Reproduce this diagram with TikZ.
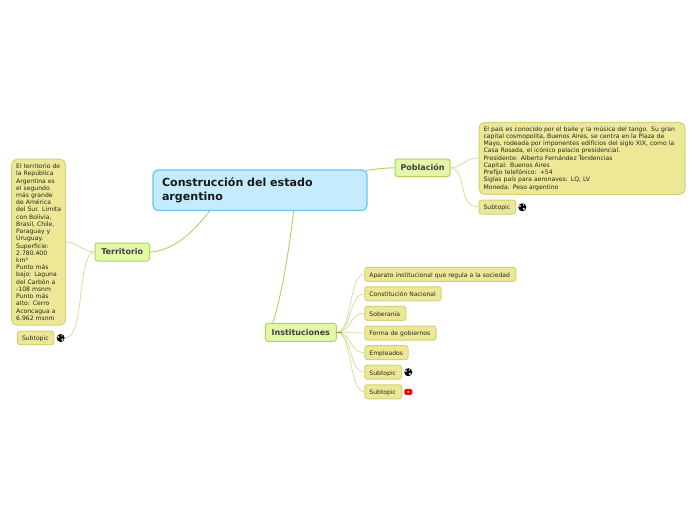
\documentclass[tikz,border=0pt]{standalone}
\usepackage{fontspec}
\setmainfont{DejaVu Sans}
\definecolor{mainfill}{HTML}{C4EBFF}
\definecolor{mainline}{HTML}{6CC5EE}
\definecolor{mainbranch}{HTML}{B2D25E}
\definecolor{topicfill}{HTML}{E2F7A8}
\definecolor{notefill}{HTML}{EDE896}
\definecolor{noteline}{HTML}{D5D07A}
\definecolor{twigline}{HTML}{DEDFA8}
\definecolor{earthland}{HTML}{C9C9A8}
\tikzset{
  centre/.style={draw=mainline,fill=mainfill,line width=1.2pt,rounded corners=5pt,anchor=north west,
    align=left,inner sep=0pt,inner xsep=9pt,outer sep=0pt,text=black!90,font=\fontsize{11.1}{13.2}\selectfont\bfseries},
  topic/.style={draw=mainbranch,fill=topicfill,line width=1pt,rounded corners=2.5pt,anchor=north west,
    align=center,inner sep=0pt,outer sep=0pt,text=black!75,font=\fontsize{8}{9}\selectfont\bfseries},
  note/.style={draw=noteline,fill=notefill,line width=1pt,rounded corners=2.5pt,anchor=north west,
    align=left,inner sep=0pt,inner xsep=4.6pt,outer sep=0pt,text=black!85,font=\fontsize{6.1}{7.22}\selectfont},
  notebox/.style 2 args={note,text width=#1pt-9.2pt,minimum height=#2pt},
  bignote/.style={rounded corners=5.5pt},
  oneline/.style={text height=6.2pt,text depth=0.6pt},
  branch/.style={draw=mainbranch,line width=0.9pt},
  twig/.style={draw=twigline,line width=0.9pt},
  earth/.style={circle,fill=black,minimum size=8pt,inner sep=0pt},
  video/.style={fill=red,rounded corners=1.5pt,minimum width=8pt,minimum height=6pt,inner sep=0pt}
}
\newcommand{\earthmarks}[1]{
  \fill[earthland] (#1.center) ++(-2.4,-1.2) circle (1.2);
  \fill[earthland] (#1.center) ++(1.6,1.6) circle (1.4);
  \fill[earthland] (#1.center) ++(1.2,-2.2) circle (0.9);
}
\begin{document}
\begin{tikzpicture}[x=1pt,y=-1pt]
\useasboundingbox (0,0) rectangle (696,520);
% branches first
\coordinate (mainright) at (366,170.5);
\coordinate (mainleft) at (210,210.5);
\coordinate (mainlow) at (293.7,210.5);
\coordinate (instup) at (272.5,323.5);
% centre and main topics
\node[centre,text width=196pt,minimum height=40.5pt] (main) at (153,170)
  {Construcción del estado\\argentino};
\node[topic,minimum width=55pt,minimum height=17.5pt] (poblacion) at (395,159) {Población};
\node[topic,minimum width=54.5pt,minimum height=18pt] (territorio) at (95,243) {Territorio};
\node[topic,minimum width=71pt,minimum height=18pt] (instituciones) at (265.3,323.3) {Instituciones};
% Poblacion
\node[notebox={206}{72},bignote] (pobnote) at (479,122.4)
  {El país es conocido por el baile y la música del tango. Su gran\\
   capital cosmopolita, Buenos Aires, se centra en la Plaza de\\
   Mayo, rodeada por imponentes edificios del siglo XIX, como la\\
   Casa Rosada, el icónico palacio presidencial.\\
   Presidente: Alberto Fernández Tendencias\\
   Capital: Buenos Aires\\
   Prefijo telefónico: +54\\
   Siglas país para aeronaves: LQ, LV\\
   Moneda: Peso argentino};
\node[notebox={36.5}{14},oneline] (pobsub) at (479,200) {Subtopic};
\node[earth] (pobearth) at (522.3,207.3) {};
\earthmarks{pobearth}
% Territorio
\node[notebox={54}{166},bignote] (terrnote) at (11.6,159.2)
  {\mbox{El territorio de}\\la República\\Argentina es\\el segundo\\más grande\\de América\\\mbox{del Sur. Limita}\\
   con Bolivia,\\Brasil, Chile,\\Paraguay y\\Uruguay.\\Superficie:\\2.780.400\\km²\\Punto más\\
   bajo: Laguna\\del Carbón a\\-108 msnm\\Punto más\\alto: Cerro\\Aconcagua a\\6.962 msnm};
\node[notebox={36.5}{13.7},oneline] (terrsub) at (17.4,331) {Subtopic};
\node[earth] (terrearth) at (60.7,338) {};
\earthmarks{terrearth}
% Instituciones
\foreach \i/\ypos/\wid/\txt in {
  1/267.3/151/Aparato institucional que regula a la sociedad,
  2/286.8/76.3/Constitución Nacional,
  3/306.4/41/Soberanía,
  4/326/71.3/Forma de gobiernos,
  5/345.6/43.3/Empleados,
  6/365.2/36.8/Subtopic,
  7/384.8/36.8/Subtopic}
  \node[notebox={\wid}{14},oneline] (inst\i) at (364.8,\ypos) {\txt};
\node[earth] (instearth) at (408.3,372.2) {};
\earthmarks{instearth}
\node[video] (instvideo) at (408.3,391.8) {};
\fill[white!80!red] (instvideo.center) circle (1.1);
% connectors
\draw[branch] (mainright) .. controls (376,169) and (384,168) .. (poblacion.west);
\draw[branch] (mainleft) .. controls (193,233) and (172,251.5) .. (territorio.east);
\draw[branch] (mainlow) .. controls (289,250) and (282,295) .. (instup);
\draw[twig] (poblacion.east) .. controls (463,168) and (463,158) .. (pobnote.west |- 0,158);
\draw[twig] (poblacion.east) .. controls (468,168) and (456,207) .. (pobsub.west);
\draw[twig] (territorio.west) .. controls (82,252) and (78,242) .. (terrnote.east |- 0,242);
\draw[twig] (territorio.west) .. controls (76,252) and (86,338) .. (terrearth.east);
\foreach \i in {1,...,7}
  \draw[twig] (instituciones.east) .. controls (353,332) and (348,0|-inst\i.west) .. (inst\i.west);
\draw[draw=noteline!70!black,line width=0.9pt] (instituciones.east) -- ++(6,0);
\end{tikzpicture}
\end{document}
